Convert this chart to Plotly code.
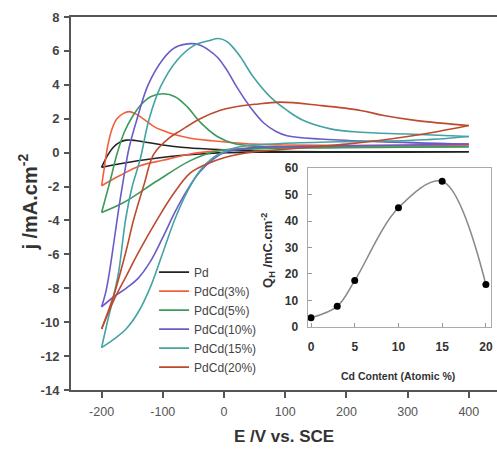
import plotly.graph_objects as go

# ---------------- data ----------------
series_names = ["Pd", "PdCd(3%)", "PdCd(5%)", "PdCd(10%)", "PdCd(15%)", "PdCd(20%)"]

pd_fwd_E = [-200, -190, -180, -170, -160, -145, -125, -100, -70, -40, 0, 50, 100, 200, 300, 400]
pd_fwd_j = [-0.87, -0.15, 0.35, 0.62, 0.74, 0.72, 0.6, 0.45, 0.32, 0.24, 0.16, 0.1, 0.07, 0.05, 0.05, 0.05]
pd_rev_E = [400, 300, 200, 100, 50, 0, -40, -80, -120, -160, -200]
pd_rev_j = [0.05, 0.03, 0.03, 0.03, 0.02, 0.0, -0.08, -0.2, -0.38, -0.6, -0.87]

cd3_fwd_E = [-200, -196, -190, -183, -175, -165, -155, -145, -130, -115, -100, -80, -55, -20, 10, 50, 100, 200, 300, 400]
cd3_fwd_j = [-1.95, -1.0, 0.4, 1.4, 2.0, 2.3, 2.42, 2.3, 1.95, 1.55, 1.3, 1.05, 0.85, 0.7, 0.6, 0.5, 0.45, 0.42, 0.42, 0.45]
cd3_rev_E = [400, 300, 200, 100, 50, 0, -55, -100, -137, -170, -200]
cd3_rev_j = [0.45, 0.42, 0.4, 0.35, 0.3, 0.15, -0.08, -0.45, -0.77, -1.35, -1.95]

cd5_fwd_E = [-200, -186, -175, -163, -150, -135, -120, -99, -80, -60, -39, -11, 15, 43, 100, 200, 300, 400]
cd5_fwd_j = [-3.53, -1.66, -0.1, 1.2, 2.1, 2.85, 3.3, 3.47, 3.3, 2.7, 1.8, 0.95, 0.55, 0.4, 0.3, 0.3, 0.32, 0.35]
cd5_rev_E = [400, 300, 200, 100, 50, -11, -55, -109, -164, -200]
cd5_rev_j = [0.35, 0.33, 0.3, 0.28, 0.22, 0.1, -0.47, -1.66, -2.94, -3.53]

cd10_fwd_E = [-200, -193, -187, -180, -172, -164, -155, -142, -124, -100, -80, -55, -40, -25, -10, 5, 21, 43, 65, 85, 103, 157, 250, 400]
cd10_fwd_j = [-9.1, -8.2, -7.0, -5.3, -3.3, -1.5, 0.3, 2.0, 4.0, 5.5, 6.2, 6.43, 6.35, 6.05, 5.6, 4.85, 3.86, 2.68, 1.75, 1.25, 1.0, 0.8, 0.65, 0.5]
cd10_rev_E = [400, 300, 200, 100, 50, 0, -20, -40, -60, -80, -100, -120, -140, -160, -180, -200]
cd10_rev_j = [0.5, 0.45, 0.4, 0.35, 0.3, 0.0, -0.45, -1.15, -2.2, -3.5, -5.0, -6.4, -7.4, -8.0, -8.5, -9.1]

cd15_fwd_E = [-200, -190, -180, -172, -161, -150, -137, -123, -104, -77, -50, -25, -9, 5, 16, 27, 48, 76, 103, 130, 174, 223, 300, 400]
cd15_fwd_j = [-11.5, -9.9, -8.4, -7.0, -4.0, -2.0, -0.4, 1.9, 3.86, 5.44, 6.3, 6.6, 6.73, 6.55, 6.15, 5.64, 4.46, 3.27, 2.49, 1.89, 1.4, 1.2, 1.1, 0.95]
cd15_rev_E = [400, 350, 300, 200, 100, 50, 20, 0, -20, -40, -60, -80, -100, -120, -140, -160, -180, -200]
cd15_rev_j = [0.95, 0.8, 0.72, 0.65, 0.55, 0.45, 0.3, 0.05, -0.35, -1.1, -2.3, -3.9, -5.9, -7.9, -9.4, -10.4, -11.0, -11.5]

cd20_fwd_E = [-200, -180, -160, -148, -130, -115, -90, -71, -39, -6, 15, 50, 92, 157, 223, 261, 315, 400]
cd20_fwd_j = [-10.4, -8.4, -5.8, -4.0, -1.8, -0.1, 0.85, 1.3, 2.0, 2.5, 2.68, 2.85, 2.98, 2.78, 2.49, 2.19, 1.89, 1.6]
cd20_rev_E = [400, 350, 300, 250, 200, 150, 100, 50, 0, -30, -55, -82, -110, -140, -160, -180, -200]
cd20_rev_j = [1.6, 1.25, 0.95, 0.7, 0.5, 0.35, 0.2, 0.05, -0.3, -0.7, -1.2, -2.4, -4.0, -5.9, -7.3, -8.7, -10.4]

cd_content = [0, 3, 5, 10, 15, 20]
q_h = [3.5, 7.8, 17.5, 45, 55, 16]

x_ticks = [-200, -100, 0, 100, 200, 300, 400]
y_ticks = [-14, -12, -10, -8, -6, -4, -2, 0, 2, 4, 6, 8]
inset_x_ticks = [0, 5, 10, 15, 20]
inset_y_ticks = [0, 10, 20, 30, 40, 50, 60]

# ---------------- styling ----------------
colors = ["#222222", "#f0603e", "#3c9a5c", "#6a5cc8", "#45a3a3", "#bd4a2c"]
FONT = "Liberation Sans, Arial, sans-serif"

branches = [
    (pd_fwd_E, pd_fwd_j, pd_rev_E, pd_rev_j),
    (cd3_fwd_E, cd3_fwd_j, cd3_rev_E, cd3_rev_j),
    (cd5_fwd_E, cd5_fwd_j, cd5_rev_E, cd5_rev_j),
    (cd10_fwd_E, cd10_fwd_j, cd10_rev_E, cd10_rev_j),
    (cd15_fwd_E, cd15_fwd_j, cd15_rev_E, cd15_rev_j),
    (cd20_fwd_E, cd20_fwd_j, cd20_rev_E, cd20_rev_j),
]

fig = go.Figure()
for name, col, (fE, fj, rE, rj) in zip(series_names, colors, branches):
    fig.add_trace(go.Scatter(
        x=list(fE) + [None] + list(rE),
        y=list(fj) + [None] + list(rj),
        mode="lines", name=name,
        line=dict(color=col, width=1.6, shape="spline", smoothing=1.0),
        connectgaps=False,
        xaxis="x", yaxis="y",
    ))

fig.add_trace(go.Scatter(
    x=cd_content, y=q_h, mode="lines",
    line=dict(color="#8a8a8a", width=1.6, shape="spline", smoothing=1.0),
    showlegend=False, xaxis="x2", yaxis="y2",
))
fig.add_trace(go.Scatter(
    x=cd_content, y=q_h, mode="markers",
    marker=dict(color="black", size=7),
    showlegend=False, xaxis="x2", yaxis="y2",
))

title_color = "#333333"
annotations = [
    dict(text="<b>E /V vs. SCE</b>", xref="paper", yref="paper", x=0.5, y=-0.126,
         xanchor="center", yanchor="middle", showarrow=False,
         font=dict(size=17, family=FONT, color=title_color)),
    dict(text="<b>j /mA.cm<sup>-2</sup></b>", xref="paper", yref="paper", x=-0.101, y=0.505,
         xanchor="center", yanchor="middle", showarrow=False, textangle=-90,
         font=dict(size=20, family=FONT, color=title_color)),
    dict(text="<b>Cd Content (Atomic %)</b>", xref="paper", yref="paper", x=0.768, y=0.037,
         xanchor="center", yanchor="middle", showarrow=False,
         font=dict(size=10.5, family=FONT, color=title_color)),
    dict(text="<b>Q<sub>H</sub> /mC.cm<sup>-2</sup></b>", xref="paper", yref="paper", x=0.462, y=0.375,
         xanchor="center", yanchor="middle", showarrow=False, textangle=-90,
         font=dict(size=13, family=FONT, color=title_color)),
]

fig.update_layout(
    width=497, height=453,
    margin=dict(l=71, r=0, t=17, b=63, autoexpand=False),
    paper_bgcolor="white", plot_bgcolor="white",
    font=dict(family=FONT, color="#333333"),
    showlegend=True,
    annotations=annotations,
    legend=dict(
        x=0.195, y=0.355, xanchor="left", yanchor="top",
        bgcolor="rgba(0,0,0,0)",
        font=dict(size=12, family=FONT, color="#444444"),
        tracegroupgap=0,
    ),
    xaxis=dict(
        domain=[0, 1], range=[-250, 446], automargin=False,
        tickvals=x_ticks, ticktext=[str(v) for v in x_ticks],
        ticks="outside", ticklen=6, tickwidth=1.5, tickcolor="#555555",
        tickfont=dict(size=12.5, family=FONT, color="#555555"),
        ticklabelstandoff=3,
        showline=True, linecolor="#555555", linewidth=2, mirror=True,
        showgrid=False, zeroline=False,
    ),
    yaxis=dict(
        domain=[0, 1], range=[-14, 8], automargin=False,
        tickvals=y_ticks, ticktext=[str(v) for v in y_ticks],
        ticks="outside", ticklen=5, tickwidth=1.5, tickcolor="#555555",
        tickfont=dict(size=13, family=FONT, color="#444444", weight="bold"),
        ticklabelstandoff=2,
        showline=True, linecolor="#555555", linewidth=2,
        showgrid=False, zeroline=False,
    ),
    xaxis2=dict(
        domain=[0.5556, 0.985], range=[-0.38, 20.54], anchor="y2", automargin=False,
        tickvals=inset_x_ticks, ticks="inside", ticklen=4, tickcolor="#999999",
        tickfont=dict(size=12, family=FONT, color="#333333", weight="bold"),
        ticklabelstandoff=9,
        showline=True, linecolor="#aaaaaa", linewidth=1.2, mirror=True,
        showgrid=False, zeroline=False,
    ),
    yaxis2=dict(
        domain=[0.169, 0.595], range=[0, 60], anchor="x2", automargin=False,
        tickvals=inset_y_ticks, ticks="inside", ticklen=4, tickcolor="#999999",
        tickfont=dict(size=12, family=FONT, color="#333333", weight="bold"),
        ticklabelstandoff=6,
        showline=True, linecolor="#aaaaaa", linewidth=1.2, mirror=True,
        showgrid=False, zeroline=False,
    ),
)

# remove the page's default 8px body margin so the 497x453 figure fills the window
fig.write_html(
    "out.html",
    config={"displayModeBar": False},
    post_script="document.body.style.margin='0';document.documentElement.style.overflow='hidden';",
)
